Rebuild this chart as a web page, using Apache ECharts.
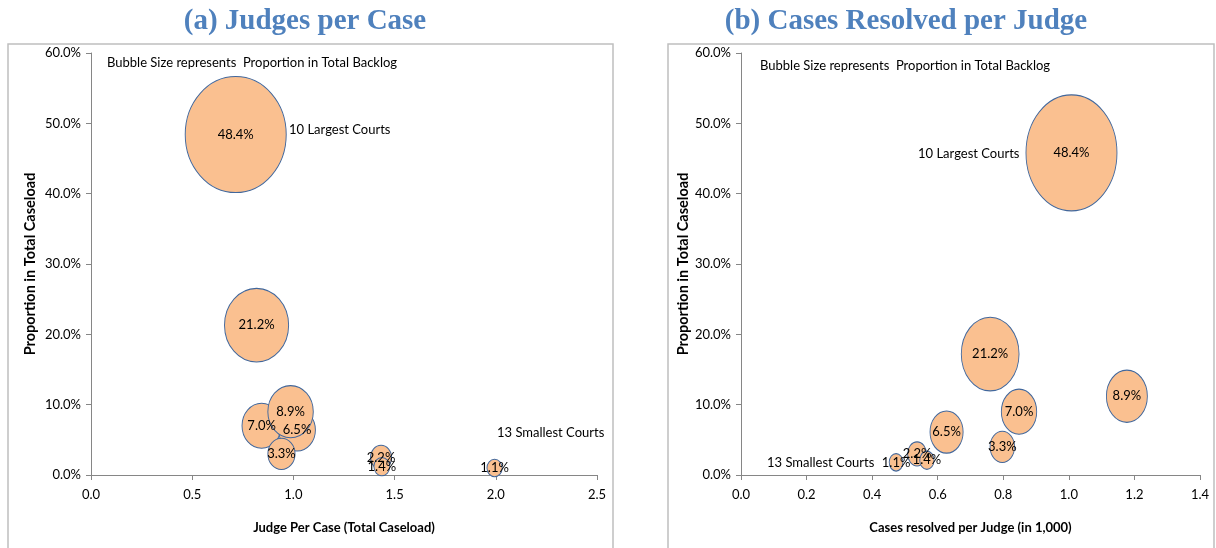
<!DOCTYPE html>
<html lang="en">
<head>
  <meta charset="UTF-8">
  <title>Judges per Case / Cases Resolved per Judge</title>
  <style>
    html, body { margin: 0; padding: 0; background: #fff; }
  </style>
</head>
<body>
  <div id="main" style="width: 1216px;height: 548px;"></div>
  <script src="https://cdn.jsdelivr.net/npm/echarts@6/dist/echarts.min.js"></script>
  <script>
    // court groups, drawn in this order (later ones on top)
    var labels = ['48.4%', '21.2%', '7.0%', '6.5%', '8.9%', '3.3%', '2.2%', '1.4%', '1.1%'];
    // bubble size: proportion in total backlog (%)
    var backlog = [48.4, 19.5, 7.3, 6.4, 9.8, 3.5, 2.1, 1.2, 1.1];

    // (a) judges per case vs proportion in total caseload (%)
    var judgesPerCase = [0.715, 0.818, 0.843, 1.018, 0.986, 0.941, 1.433, 1.437, 1.994];
    var caseloadA = [48.4, 21.3, 7.0, 6.4, 9.0, 3.0, 2.5, 1.2, 1.0];

    // (b) cases resolved per judge (in 1,000) vs proportion in total caseload (%)
    var resolvedPerJudge = [1.008, 0.760, 0.848, 0.627, 1.177, 0.797, 0.537, 0.567, 0.473];
    var caseloadB = [45.8, 17.2, 9.0, 6.1, 11.2, 4.0, 3.0, 2.1, 1.8];

    var font = 'Lato, "DejaVu Sans", sans-serif';
    var axisColor = '#868686';

    function points(xs, ys) {
      return xs.map(function (x, i) { return [x, ys[i], backlog[i], labels[i]]; });
    }

    function sizer(w, h) {
      return function (val) {
        var k = Math.sqrt(val[2] / backlog[0]);
        return [w * k, h * k];
      };
    }

    function xAxis(idx, max, interval, name) {
      return {
        gridIndex: idx, type: 'value', min: 0, max: max, interval: interval,
        name: name, nameLocation: 'middle', nameGap: 46,
        nameTextStyle: { fontFamily: font, fontSize: 13, fontWeight: 'bold', color: '#000' },
        axisLine: { lineStyle: { color: axisColor } },
        axisTick: { length: 5, lineStyle: { color: axisColor } },
        splitLine: { show: false },
        axisLabel: {
          margin: 13, fontFamily: font, fontSize: 13, color: '#000',
          formatter: function (v) { return v.toFixed(1); }
        }
      };
    }

    function yAxis(idx, gap) {
      return {
        gridIndex: idx, type: 'value', min: 0, max: 60, interval: 10,
        name: 'Proportion in Total Caseload', nameLocation: 'middle', nameGap: gap,
        nameTextStyle: { fontFamily: font, fontSize: 14.5, fontWeight: 'bold', color: '#000' },
        axisLine: { show: true, lineStyle: { color: axisColor } },
        axisTick: { show: true, length: 5, lineStyle: { color: axisColor } },
        splitLine: { show: false },
        axisLabel: {
          margin: 10, fontFamily: font, fontSize: 13, color: '#000',
          formatter: function (v) { return v.toFixed(1) + '%'; }
        }
      };
    }

    function bubbles(idx, data, w, h) {
      return {
        type: 'scatter', xAxisIndex: idx, yAxisIndex: idx,
        data: data,
        symbolSize: sizer(w, h),
        itemStyle: { color: '#FAC090', borderColor: '#41679C', borderWidth: 1, opacity: 1 },
        label: {
          show: true, position: 'inside', color: '#000',
          fontFamily: font, fontSize: 13,
          formatter: function (p) { return p.data[3]; }
        },
        emphasis: { disabled: true },
        silent: true
      };
    }

    function note(x, y, text) {
      return {
        type: 'text', x: x, y: y,
        style: { text: text, fill: '#000', font: '13px ' + font, textVerticalAlign: 'middle' }
      };
    }

    var titleFont = 'bold 29px "Liberation Serif", "Times New Roman", serif';

    var myChart = echarts.init(document.getElementById('main'));
    myChart.setOption({
      animation: false,
      grid: [
        { left: 91, top: 53, width: 506, height: 422 },
        { left: 741, top: 53, width: 459, height: 422 }
      ],
      xAxis: [
        xAxis(0, 2.5, 0.5, 'Judge Per Case (Total Caseload)'),
        xAxis(1, 1.4, 0.2, 'Cases resolved per Judge (in 1,000)')
      ],
      yAxis: [yAxis(0, 53), yAxis(1, 48)],
      series: [
        bubbles(0, points(judgesPerCase, caseloadA), 101, 116),
        bubbles(1, points(resolvedPerJudge, caseloadB), 91, 116)
      ],
      graphic: [
        { type: 'rect', shape: { x: 8, y: 44, width: 605, height: 520 },
          style: { fill: 'none', stroke: '#bfbfbf', lineWidth: 1.5 }, z: -1 },
        { type: 'rect', shape: { x: 668, y: 44, width: 546, height: 520 },
          style: { fill: 'none', stroke: '#bfbfbf', lineWidth: 1.5 }, z: -1 },
        { type: 'text', x: 305, y: 22,
          style: { text: '(a) Judges per Case', fill: '#4F81BD', textAlign: 'center',
                   textVerticalAlign: 'middle', font: titleFont } },
        { type: 'text', x: 906, y: 22,
          style: { text: '(b) Cases Resolved per Judge', fill: '#4F81BD', textAlign: 'center',
                   textVerticalAlign: 'middle', font: titleFont } },
        note(107, 63, 'Bubble Size represents  Proportion in Total Backlog'),
        note(289, 130, '10 Largest Courts'),
        note(497, 433, '13 Smallest Courts'),
        note(760, 66, 'Bubble Size represents  Proportion in Total Backlog'),
        note(918, 154, '10 Largest Courts'),
        note(767, 463, '13 Smallest Courts')
      ]
    });
  </script>
</body>
</html>
